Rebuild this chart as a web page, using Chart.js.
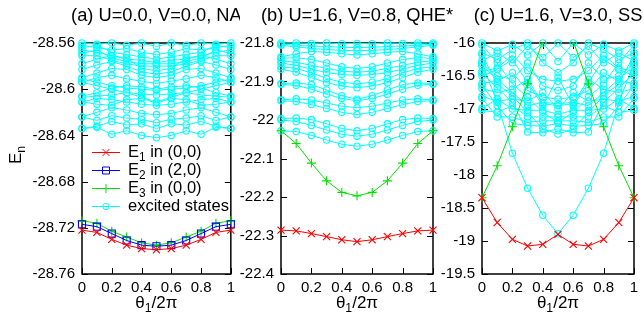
<!DOCTYPE html>
<html>
<head>
<meta charset="utf-8">
<script src="https://cdn.jsdelivr.net/npm/chart.js@4.4.0/dist/chart.umd.min.js"></script>
<style>
  body { margin: 0; background: #fff; width: 644px; height: 316px; overflow: hidden; position: relative; }
  canvas { position: absolute; top: 0; }
</style>
</head>
<body>
<canvas id="ca" style="left:0px" width="240" height="316"></canvas>
<canvas id="cb" style="left:236px" width="234" height="316"></canvas>
<canvas id="cc" style="left:436px" width="208" height="316"></canvas>
<script>
// theta_1 / 2pi grid
const thetaX = [0, 0.1, 0.2, 0.3, 0.4, 0.5, 0.6, 0.7, 0.8, 0.9, 1];
const xTickVals = [0, 0.2, 0.4, 0.6, 0.8, 1];
const xTickLabels = ['0', '0.2', '0.4', '0.6', '0.8', '1'];

const titles = ['(a) U=0.0, V=0.0, NA', '(b) U=1.6, V=0.8, QHE*', '(c) U=1.6, V=3.0, SS'];

// ---- panel (a)
const aYTickVals = [-28.76, -28.72, -28.68, -28.64, -28.6, -28.56];
const aYTickLabels = ['-28.76', '-28.72', '-28.68', '-28.64', '-28.6', '-28.56'];
const aE1 = [-28.722, -28.724, -28.730, -28.735, -28.738, -28.739, -28.738, -28.735, -28.730, -28.724, -28.722];
const aE2 = [-28.717, -28.719, -28.725, -28.731, -28.735, -28.736, -28.735, -28.731, -28.725, -28.719, -28.717];
const aE3 = [-28.714, -28.716, -28.723, -28.728, -28.733, -28.735, -28.733, -28.728, -28.723, -28.716, -28.714];
const aExc = [
  [-28.560, -28.561, -28.560, -28.562, -28.560, -28.563, -28.560, -28.562, -28.560, -28.561, -28.560],
  [-28.562, -28.564, -28.566, -28.565, -28.568, -28.570, -28.568, -28.565, -28.566, -28.564, -28.562],
  [-28.564, -28.562, -28.568, -28.570, -28.572, -28.574, -28.572, -28.570, -28.568, -28.562, -28.564],
  [-28.566, -28.568, -28.571, -28.574, -28.575, -28.577, -28.575, -28.574, -28.571, -28.568, -28.566],
  [-28.569, -28.566, -28.573, -28.576, -28.578, -28.578, -28.578, -28.576, -28.573, -28.566, -28.569],
  [-28.571, -28.571, -28.575, -28.578, -28.580, -28.580, -28.580, -28.578, -28.575, -28.571, -28.571],
  [-28.578, -28.574, -28.571, -28.573, -28.582, -28.584, -28.582, -28.573, -28.571, -28.574, -28.578],
  [-28.583, -28.579, -28.576, -28.580, -28.585, -28.587, -28.585, -28.580, -28.576, -28.579, -28.583],
  [-28.590, -28.586, -28.582, -28.583, -28.588, -28.590, -28.588, -28.583, -28.582, -28.586, -28.590],
  [-28.594, -28.590, -28.588, -28.591, -28.593, -28.595, -28.593, -28.591, -28.588, -28.590, -28.594],
  [-28.591, -28.594, -28.597, -28.599, -28.600, -28.601, -28.600, -28.599, -28.597, -28.594, -28.591],
  [-28.594, -28.597, -28.600, -28.603, -28.604, -28.605, -28.604, -28.603, -28.600, -28.597, -28.594],
  [-28.606, -28.603, -28.599, -28.597, -28.598, -28.600, -28.598, -28.597, -28.599, -28.603, -28.606],
  [-28.607, -28.606, -28.605, -28.603, -28.607, -28.611, -28.607, -28.603, -28.605, -28.606, -28.607],
  [-28.611, -28.608, -28.609, -28.611, -28.613, -28.614, -28.613, -28.611, -28.609, -28.608, -28.611],
  [-28.611, -28.613, -28.614, -28.609, -28.608, -28.612, -28.608, -28.609, -28.614, -28.613, -28.611],
  [-28.624, -28.620, -28.616, -28.618, -28.621, -28.622, -28.621, -28.618, -28.616, -28.620, -28.624],
  [-28.624, -28.627, -28.623, -28.625, -28.626, -28.629, -28.626, -28.625, -28.623, -28.627, -28.624],
  [-28.634, -28.632, -28.628, -28.631, -28.630, -28.634, -28.630, -28.631, -28.628, -28.632, -28.634],
  [-28.634, -28.633, -28.639, -28.636, -28.640, -28.642, -28.640, -28.636, -28.639, -28.633, -28.634]
];

// ---- panel (b)
const bYTickVals = [-22.4, -22.3, -22.2, -22.1, -22, -21.9, -21.8];
const bYTickLabels = ['-22.4', '-22.3', '-22.2', '-22.1', '-22', '-21.9', '-21.8'];
const bE1 = [-22.286, -22.288, -22.295, -22.303, -22.311, -22.316, -22.311, -22.303, -22.295, -22.288, -22.286];
const bE3 = [-22.028, -22.061, -22.112, -22.158, -22.188, -22.197, -22.188, -22.158, -22.112, -22.061, -22.028];
const bExc = [
  [-21.800, -21.800, -21.801, -21.800, -21.802, -21.801, -21.802, -21.800, -21.801, -21.800, -21.800],
  [-21.803, -21.806, -21.808, -21.809, -21.811, -21.812, -21.811, -21.809, -21.808, -21.806, -21.803],
  [-21.806, -21.810, -21.814, -21.817, -21.819, -21.820, -21.819, -21.817, -21.814, -21.810, -21.806],
  [-21.836, -21.828, -21.822, -21.824, -21.828, -21.831, -21.828, -21.824, -21.822, -21.828, -21.836],
  [-21.840, -21.838, -21.843, -21.852, -21.862, -21.866, -21.862, -21.852, -21.843, -21.838, -21.840],
  [-21.846, -21.850, -21.858, -21.866, -21.873, -21.876, -21.873, -21.866, -21.858, -21.850, -21.846],
  [-21.852, -21.858, -21.868, -21.877, -21.882, -21.884, -21.882, -21.877, -21.868, -21.858, -21.852],
  [-21.862, -21.866, -21.878, -21.892, -21.902, -21.906, -21.902, -21.892, -21.878, -21.866, -21.862],
  [-21.868, -21.876, -21.890, -21.903, -21.912, -21.916, -21.912, -21.903, -21.890, -21.876, -21.868],
  [-21.905, -21.904, -21.908, -21.922, -21.937, -21.946, -21.937, -21.922, -21.908, -21.904, -21.905],
  [-21.907, -21.910, -21.920, -21.933, -21.944, -21.950, -21.944, -21.933, -21.920, -21.910, -21.907],
  [-21.948, -21.945, -21.948, -21.956, -21.964, -21.968, -21.964, -21.956, -21.948, -21.945, -21.948],
  [-21.950, -21.952, -21.960, -21.970, -21.980, -21.986, -21.980, -21.970, -21.960, -21.952, -21.950],
  [-21.996, -21.995, -21.999, -22.010, -22.022, -22.028, -22.022, -22.010, -21.999, -21.995, -21.996],
  [-22.000, -22.004, -22.014, -22.026, -22.037, -22.042, -22.037, -22.026, -22.014, -22.004, -22.000],
  [-22.028, -22.030, -22.040, -22.052, -22.063, -22.068, -22.063, -22.052, -22.040, -22.030, -22.028]
];

// ---- panel (c)
const cYTickVals = [-19.5, -19, -18.5, -18, -17.5, -17, -16.5, -16];
const cYTickLabels = ['-19.5', '-19', '-18.5', '-18', '-17.5', '-17', '-16.5', '-16'];
const cE1 = [-18.344, -18.72, -18.975, -19.076, -19.05, -18.90, -19.05, -19.076, -18.975, -18.72, -18.344];
const cE3 = [-18.344, -17.86, -17.27, -16.62, -15.97, -15.60, -15.97, -16.62, -17.27, -17.86, -18.344];
const cExc = [
  [-16.00, -16.12, -16.02, -16.18, -16.00, -16.28, -16.00, -16.18, -16.02, -16.12, -16.00],
  [-16.27, -16.15, -16.30, -16.05, -16.22, -16.00, -16.22, -16.05, -16.30, -16.15, -16.27],
  [-16.43, -16.38, -16.18, -16.42, -16.55, -16.58, -16.55, -16.42, -16.18, -16.38, -16.43],
  [-16.31, -16.50, -16.55, -16.30, -16.65, -16.72, -16.65, -16.30, -16.55, -16.50, -16.31],
  [-16.61, -16.58, -16.45, -16.72, -16.82, -16.85, -16.82, -16.72, -16.45, -16.58, -16.61],
  [-16.69, -16.75, -16.70, -16.55, -16.92, -16.95, -16.92, -16.55, -16.70, -16.75, -16.69],
  [-16.81, -16.88, -16.85, -16.88, -16.75, -17.00, -16.75, -16.88, -16.85, -16.88, -16.81],
  [-16.99, -16.85, -17.00, -17.02, -17.02, -17.08, -17.02, -17.02, -17.00, -16.85, -16.99],
  [-17.02, -17.05, -16.95, -17.12, -17.12, -17.12, -17.12, -17.12, -16.95, -17.05, -17.02],
  [-16.84, -17.12, -17.12, -17.20, -17.18, -17.18, -17.18, -17.20, -17.12, -17.12, -16.84],
  [-16.64, -16.95, -17.22, -17.25, -17.26, -17.22, -17.26, -17.25, -17.22, -16.95, -16.64],
  [-16.46, -16.68, -16.90, -17.35, -17.36, -17.30, -17.36, -17.35, -16.90, -16.68, -16.46],
  [-16.03, -16.30, -16.62, -16.82, -17.05, -17.20, -17.05, -16.82, -16.62, -16.30, -16.03],
  [-16.50, -16.40, -16.25, -16.60, -16.95, -16.52, -16.95, -16.60, -16.25, -16.40, -16.50],
  [-16.18, -16.62, -16.80, -17.05, -17.30, -17.38, -17.30, -17.05, -16.80, -16.62, -16.18],
  [-16.35, -16.55, -16.75, -16.95, -16.90, -16.92, -16.90, -16.95, -16.75, -16.55, -16.35],
  [-16.15, -16.25, -16.10, -16.00, -16.30, -16.45, -16.30, -16.00, -16.10, -16.25, -16.15],
  [-16.31, -16.90, -17.67, -18.20, -18.61, -18.89, -18.61, -18.20, -17.67, -16.90, -16.31]
];

const FONT = '"Liberation Sans", Arial, sans-serif';
const CYAN = '#00ffff', RED = '#ff0000', BLUE = '#0000ff', GREEN = '#00e000';

const pts = vals => vals.map((v, i) => ({x: thetaX[i], y: v}));

function series(vals, kind) {
  const st = {
    exc: {c: CYAN, ps: 'circle', r: 3.2},
    e1: {c: RED, ps: 'crossRot', r: 5},
    e2: {c: BLUE, ps: 'rect', r: 5},
    e3: {c: GREEN, ps: 'cross', r: 4.5}
  }[kind];
  return {
    data: pts(vals),
    borderColor: st.c,
    backgroundColor: 'rgba(0,0,0,0)',
    pointBorderColor: st.c,
    pointBackgroundColor: 'rgba(0,0,0,0)',
    pointStyle: st.ps,
    pointRadius: st.r,
    pointBorderWidth: 1.1,
    borderWidth: 1,
    tension: 0,
    clip: 5
  };
}

// text with subscripts: parts = [[text, isSub], ...]
function drawRuns(ctx, parts, x, y, size, align) {
  const f = s => (s ? size * 0.72 : size) + 'px ' + FONT;
  let w = 0;
  parts.forEach(p => { ctx.font = f(p[1]); w += ctx.measureText(p[0]).width; });
  let cx = align === 'center' ? x - w / 2 : x;
  ctx.textAlign = 'left';
  ctx.textBaseline = 'middle';
  parts.forEach(p => {
    ctx.font = f(p[1]);
    ctx.fillText(p[0], cx, y + (p[1] ? size * 0.32 : 0));
    cx += ctx.measureText(p[0]).width;
  });
}

function marker(ctx, kind, x, y) {
  ctx.beginPath();
  if (kind === 'e1') {
    ctx.moveTo(x - 3.5, y - 3.5); ctx.lineTo(x + 3.5, y + 3.5);
    ctx.moveTo(x - 3.5, y + 3.5); ctx.lineTo(x + 3.5, y - 3.5);
  } else if (kind === 'e2') {
    ctx.rect(x - 3.5, y - 3.5, 7, 7);
  } else if (kind === 'e3') {
    ctx.moveTo(x - 4.5, y); ctx.lineTo(x + 4.5, y);
    ctx.moveTo(x, y - 4.5); ctx.lineTo(x, y + 4.5);
  } else {
    ctx.arc(x, y, 3.2, 0, Math.PI * 2);
  }
  ctx.stroke();
}

const framePlugin = {
  id: 'frame',
  beforeDatasetsDraw(chart, args, o) {
    const {ctx, chartArea: a, scales} = chart;
    ctx.save();
    ctx.strokeStyle = '#000';
    ctx.lineWidth = 1.5;
    ctx.strokeRect(a.left, a.top, a.right - a.left, a.bottom - a.top);
    ctx.lineWidth = 1;
    ctx.beginPath();
    scales.y.ticks.forEach(t => {
      const y = Math.round(scales.y.getPixelForValue(t.value)) + 0.5;
      ctx.moveTo(a.left, y); ctx.lineTo(a.left + 6, y);
      ctx.moveTo(a.right, y); ctx.lineTo(a.right - 6, y);
    });
    scales.x.ticks.forEach(t => {
      const x = Math.round(scales.x.getPixelForValue(t.value)) + 0.5;
      ctx.moveTo(x, a.bottom); ctx.lineTo(x, a.bottom - 6);
      ctx.moveTo(x, a.top); ctx.lineTo(x, a.top + 6);
    });
    ctx.stroke();
    ctx.restore();
  },
  afterDraw(chart, args, o) {
    const {ctx, chartArea: a} = chart;
    const mid = (a.left + a.right) / 2;
    ctx.save();
    ctx.fillStyle = '#000';
    drawRuns(ctx, [[o.title, false]], mid, 16, 18.3, 'center');
    drawRuns(ctx, [['θ', false], ['1', true], ['/2π', false]], mid, 303, 17, 'center');
    if (o.yTitle) {
      ctx.save();
      ctx.translate(16, 155);
      ctx.rotate(-Math.PI / 2);
      drawRuns(ctx, [['E', false], ['n', true]], 0, 0, 17, 'center');
      ctx.restore();
    }
    if (o.legend) {
      const rows = [
        ['e1', RED, [['E', false], ['1', true], [' in (0,0)', false]]],
        ['e2', BLUE, [['E', false], ['2', true], [' in (2,0)', false]]],
        ['e3', GREEN, [['E', false], ['3', true], [' in (0,0)', false]]],
        ['exc', CYAN, [['excited states', false]]]
      ];
      rows.forEach((r, i) => {
        const y = 152 + i * 18;
        ctx.strokeStyle = r[1];
        ctx.lineWidth = 1;
        ctx.beginPath(); ctx.moveTo(92, y + 0.5); ctx.lineTo(120, y + 0.5); ctx.stroke();
        marker(ctx, r[0], 106, y + 0.5);
        ctx.fillStyle = '#000';
        drawRuns(ctx, r[2], 128, y, 16.5, 'left');
      });
    }
    ctx.restore();
  }
};

function makePanel(id, datasets, yMin, yMax, yVals, yLabels, axisW, padRight, opts) {
  return new Chart(document.getElementById(id), {
    type: 'line',
    data: {datasets: datasets},
    options: {
      responsive: false,
      animation: false,
      events: [],
      layout: {padding: {top: 43, right: padRight, bottom: 0, left: 0}},
      scales: {
        x: {
          type: 'linear', min: 0, max: 1,
          grid: {display: false, drawTicks: false},
          border: {display: false},
          afterBuildTicks: s => { s.ticks = xTickVals.map(v => ({value: v})); },
          afterFit: s => { s.height = 42; },
          ticks: {padding: 5, color: '#000', font: {family: FONT, size: 15},
                  callback: (v, i) => xTickLabels[i]}
        },
        y: {
          type: 'linear', min: yMin, max: yMax,
          grid: {display: false, drawTicks: false},
          border: {display: false},
          afterBuildTicks: s => { s.ticks = yVals.map(v => ({value: v})); },
          afterFit: s => { s.width = axisW; },
          ticks: {padding: 7, color: '#000', font: {family: FONT, size: 15},
                  callback: (v, i) => yLabels[i]}
        }
      },
      plugins: {
        legend: {display: false},
        tooltip: {enabled: false},
        frame: opts
      }
    },
    plugins: [framePlugin]
  });
}

const aSets = [series(aE1, 'e1'), series(aE2, 'e2'), series(aE3, 'e3')]
  .concat(aExc.map(v => series(v, 'exc')));
makePanel('ca', aSets, -28.76, -28.56, aYTickVals, aYTickLabels, 82, 6,
  {title: titles[0], yTitle: true, legend: true});

const bSets = [series(bE1, 'e1'), series(bE3, 'e3')]
  .concat(bExc.map(v => series(v, 'exc')));
makePanel('cb', bSets, -22.4, -21.8, bYTickVals, bYTickLabels, 45, 37,
  {title: titles[1]});

const cGreen = series(cE3, 'e3');
cGreen.clip = 1;
const cSets = [series(cE1, 'e1'), cGreen]
  .concat(cExc.map(v => series(v, 'exc')));
makePanel('cc', cSets, -19.5, -16, cYTickVals, cYTickLabels, 46, 10,
  {title: titles[2]});
</script>
</body>
</html>
